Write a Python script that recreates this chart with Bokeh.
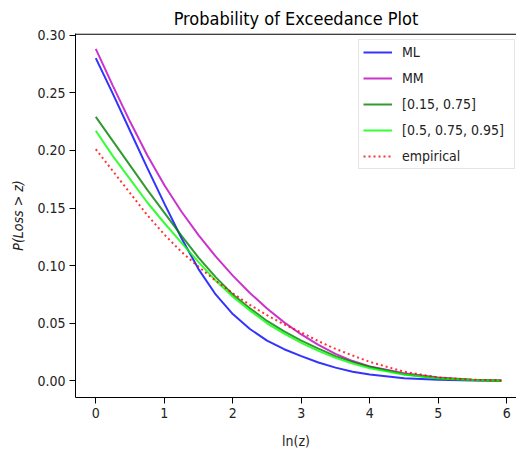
from bokeh.plotting import figure
from bokeh.models import Range1d, FixedTicker, PrintfTickFormatter, Legend, LegendItem, BoxAnnotation
from bokeh.embed import file_html
from bokeh.resources import INLINE

# ---- data ----
ln_z = [0.0, 0.25, 0.5, 0.75, 1.0, 1.25, 1.5, 1.75, 2.0, 2.25, 2.5, 2.75,
        3.0, 3.25, 3.5, 3.75, 4.0, 4.5, 5.0, 5.5, 5.92]
p_ml = [0.280, 0.249, 0.217, 0.185, 0.154, 0.124, 0.097, 0.075, 0.058, 0.045, 0.035, 0.0275,
        0.0215, 0.016, 0.0115, 0.008, 0.0055, 0.0024, 0.0009, 0.0003, 0.0001]
p_mm = [0.288, 0.256, 0.225, 0.196, 0.170, 0.147, 0.1265, 0.108, 0.0913, 0.0763, 0.0628, 0.0508,
        0.0403, 0.0313, 0.0235, 0.0172, 0.0125, 0.0066, 0.0030, 0.0011, 0.0004]
p_q2 = [0.229, 0.208, 0.187, 0.166, 0.146, 0.126, 0.107, 0.090, 0.075, 0.063, 0.052, 0.043,
        0.035, 0.028, 0.0215, 0.0165, 0.0122, 0.0058, 0.0022, 0.0007, 0.0002]
p_q3 = [0.217, 0.195, 0.175, 0.155, 0.137, 0.120, 0.103, 0.087, 0.073, 0.061, 0.050, 0.041,
        0.033, 0.026, 0.020, 0.015, 0.011, 0.0055, 0.0021, 0.0007, 0.0002]
p_emp = [0.201, 0.182, 0.163, 0.144, 0.127, 0.112, 0.099, 0.087, 0.076, 0.066, 0.057, 0.049,
         0.042, 0.0345, 0.0278, 0.022, 0.0165, 0.0080, 0.0030, 0.0010, 0.0004]

labels = ["ML", "MM", "[0.15, 0.75]", "[0.5, 0.75, 0.95]", "empirical"]
x_ticks = [0, 1, 2, 3, 4, 5, 6]
y_ticks = [0.0, 0.05, 0.10, 0.15, 0.20, 0.25, 0.30]

FONT = "DejaVu Sans Condensed"
Y_TOP = 0.3014

p = figure(width=516, height=452, output_backend="svg", toolbar_location=None,
           x_range=Range1d(-0.296, 6.142), y_range=Range1d(-0.0144, Y_TOP),
           min_border_left=75, min_border_right=0, min_border_top=33, min_border_bottom=55,
           title="Probability of Exceedance Plot")
p.title.align = "center"
p.title.text_font = FONT
p.title.text_font_size = "18px"
p.title.text_font_style = "normal"
p.title.text_color = "black"
p.title.standoff = 10

p.grid.visible = False
p.outline_line_color = None
p.background_fill_color = "white"
p.border_fill_color = "white"

xa = p.xaxis[0]
xa.ticker = FixedTicker(ticks=x_ticks)
xa.axis_label = "ln(z)"
ya = p.yaxis[0]
ya.ticker = FixedTicker(ticks=y_ticks)
ya.formatter = PrintfTickFormatter(format="%.2f")
ya.axis_label = "P(Loss > z)"
ya.axis_label_text_font_style = "italic"

for ax in (xa, ya):
    ax.axis_line_color = "black"
    ax.axis_line_width = 1
    ax.major_tick_line_color = "black"
    ax.major_tick_out = 6
    ax.major_tick_in = 0
    ax.minor_tick_line_color = None
    ax.major_label_text_font = FONT
    ax.major_label_text_font_size = "14px"
    ax.major_label_text_color = "#222222"
    ax.major_label_standoff = 4
    ax.axis_label_text_font = FONT
    ax.axis_label_text_font_size = "14px"
    ax.axis_label_text_color = "#222222"
xa.axis_label_standoff = 12
xa.axis_label_text_font_style = "normal"
ya.axis_label_standoff = 8

# top spine: a thin band along the top of the frame
p.add_layout(BoxAnnotation(bottom=Y_TOP - 0.0011, top=Y_TOP, fill_color="black", fill_alpha=1.0,
                           line_color=None, level="overlay"))

series = [p_ml, p_mm, p_q2, p_q3, p_emp]
colors = ["#0000ff", "#bf00bf", "#008000", "#00ff00", "#ff0000"]
items = []
for lab, ys, col in zip(labels, series, colors):
    if lab == "empirical":
        r = p.line(ln_z, ys, line_color=col, line_alpha=0.8, line_width=2, line_dash="2 3")
    else:
        r = p.line(ln_z, ys, line_color=col, line_alpha=0.8, line_width=2)
    items.append(LegendItem(label=lab, renderers=[r]))

legend = Legend(items=items, location=(283, 228))
legend.label_text_font = FONT
legend.label_text_font_size = "14px"
legend.label_text_color = "#222222"
legend.padding = 4
legend.glyph_width = 29
legend.glyph_height = 16
legend.label_height = 16
legend.label_width = 108
legend.label_standoff = 10
legend.spacing = 10
legend.border_line_color = "#cccccc"
legend.border_line_width = 1
legend.background_fill_alpha = 0.8
legend.margin = 0
p.add_layout(legend, "center")

open("out.html", "w").write(file_html(p, INLINE))
